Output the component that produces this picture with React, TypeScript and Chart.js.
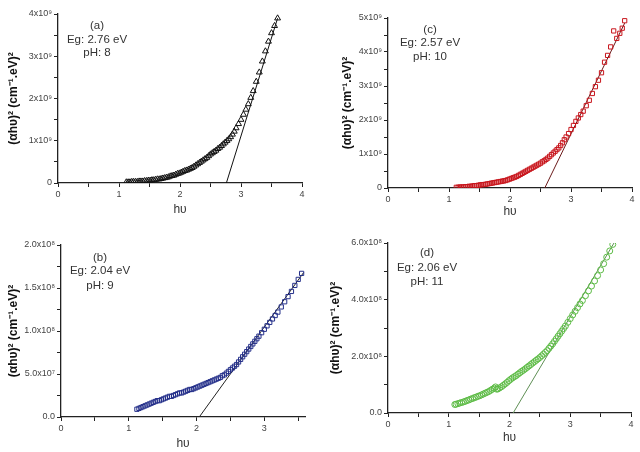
import React, { useEffect, useRef } from "react";
import { Chart, registerables } from "chart.js";

Chart.register(...registerables);

// ---------- data ----------
const X_TICK_LABELS = ["0", "1", "2", "3", "4"];
const Y_TITLE = "(αhυ)² (cm⁻¹.eV)²";
const X_TITLE = "hυ";

// (a) pH 8 — y in units of 10⁹
const HV_A = [1.12,1.15,1.18,1.21,1.24,1.27,1.30,1.33,1.36,1.39,1.42,1.45,1.48,1.51,1.54,1.57,1.60,1.63,1.66,1.69,1.72,1.75,1.78,1.81,1.84,1.87,1.90,1.93,1.96,1.99,2.02,2.05,2.08,2.11,2.14,2.17,2.20,2.23,2.26,2.29,2.32,2.35,2.38,2.41,2.44,2.47,2.50,2.53,2.56,2.59,2.62,2.65,2.68,2.71,2.74,2.77,2.80,2.83,2.86,2.89,2.92,2.96,3.00,3.04,3.08,3.12,3.16,3.20,3.25,3.30,3.35,3.40,3.45,3.50,3.55,3.60];
const ALPHA_A = [0.02,0.02,0.02,0.03,0.03,0.03,0.03,0.04,0.04,0.04,0.05,0.05,0.06,0.06,0.07,0.07,0.08,0.09,0.09,0.10,0.11,0.12,0.13,0.14,0.16,0.17,0.18,0.20,0.22,0.23,0.25,0.27,0.29,0.30,0.32,0.34,0.36,0.39,0.42,0.45,0.48,0.51,0.54,0.57,0.60,0.64,0.68,0.71,0.74,0.77,0.81,0.84,0.88,0.92,0.96,1.00,1.04,1.09,1.15,1.22,1.30,1.40,1.50,1.62,1.74,1.87,2.02,2.18,2.40,2.62,2.88,3.12,3.35,3.55,3.72,3.90];
const FIT_A_X = [2.76, 3.60];
const FIT_A_Y = [0, 3.90];
const Y_VALS_A = [0, 1, 2, 3, 4];
const Y_LABELS_A = ["0", "1x10⁹", "2x10⁹", "3x10⁹", "4x10⁹"];
const NOTE_A = ["(a)", "Eg: 2.76 eV", "pH: 8"];

// (c) pH 10 — y in units of 10⁹
const HV_C = [1.12,1.15,1.18,1.21,1.24,1.27,1.30,1.33,1.36,1.39,1.42,1.45,1.48,1.51,1.54,1.57,1.60,1.63,1.66,1.69,1.72,1.75,1.78,1.81,1.84,1.87,1.90,1.93,1.96,1.99,2.02,2.05,2.08,2.11,2.14,2.17,2.20,2.23,2.26,2.29,2.32,2.35,2.38,2.41,2.44,2.47,2.50,2.53,2.56,2.59,2.62,2.65,2.68,2.71,2.74,2.77,2.80,2.83,2.86,2.89,2.92,2.96,3.00,3.04,3.08,3.12,3.16,3.20,3.25,3.30,3.35,3.40,3.45,3.50,3.55,3.60,3.65,3.70,3.75,3.80,3.84,3.88];
const ALPHA_C = [0.02,0.02,0.03,0.03,0.03,0.04,0.04,0.05,0.05,0.06,0.07,0.07,0.08,0.09,0.10,0.10,0.11,0.12,0.13,0.14,0.15,0.16,0.17,0.18,0.19,0.20,0.21,0.22,0.24,0.26,0.28,0.30,0.32,0.34,0.37,0.40,0.43,0.46,0.49,0.52,0.55,0.58,0.61,0.64,0.67,0.70,0.73,0.77,0.80,0.84,0.88,0.93,0.98,1.03,1.08,1.13,1.18,1.25,1.33,1.42,1.50,1.60,1.72,1.84,1.96,2.06,2.16,2.26,2.42,2.58,2.78,2.98,3.17,3.39,3.70,3.90,4.15,4.62,4.40,4.55,4.70,4.92];
const FIT_C_X = [2.57, 3.88];
const FIT_C_Y = [0, 4.85];
const Y_VALS_C = [0, 1, 2, 3, 4, 5];
const Y_LABELS_C = ["0", "1x10⁹", "2x10⁹", "3x10⁹", "4x10⁹", "5x10⁹"];
const NOTE_C = ["(c)", "Eg: 2.57 eV", "pH: 10"];

// (b) pH 9 — y in units of 10⁸
const HV_B = [1.12,1.15,1.18,1.21,1.24,1.27,1.30,1.33,1.36,1.39,1.42,1.45,1.48,1.51,1.54,1.57,1.60,1.63,1.66,1.69,1.72,1.75,1.78,1.81,1.84,1.87,1.90,1.93,1.96,1.99,2.02,2.05,2.08,2.11,2.14,2.17,2.20,2.23,2.26,2.29,2.32,2.35,2.38,2.41,2.44,2.47,2.50,2.53,2.56,2.59,2.62,2.65,2.68,2.71,2.74,2.77,2.80,2.83,2.86,2.89,2.92,2.96,3.00,3.04,3.08,3.12,3.16,3.20,3.25,3.30,3.35,3.40,3.45,3.50,3.55];
const ALPHA_B = [0.09,0.10,0.11,0.12,0.13,0.14,0.15,0.16,0.17,0.18,0.19,0.19,0.20,0.21,0.22,0.23,0.24,0.24,0.25,0.26,0.27,0.28,0.28,0.29,0.30,0.31,0.32,0.32,0.33,0.34,0.35,0.36,0.37,0.38,0.39,0.40,0.41,0.42,0.43,0.44,0.45,0.46,0.48,0.49,0.51,0.53,0.55,0.57,0.59,0.61,0.64,0.67,0.70,0.73,0.76,0.79,0.82,0.85,0.88,0.91,0.94,0.98,1.02,1.06,1.10,1.14,1.18,1.22,1.28,1.34,1.40,1.46,1.53,1.60,1.67];
const FIT_B_X = [2.04, 3.58];
const FIT_B_Y = [0, 1.68];
const Y_VALS_B = [0, 0.5, 1.0, 1.5, 2.0];
const Y_LABELS_B = ["0.0", "5.0x10⁷", "1.0x10⁸", "1.5x10⁸", "2.0x10⁸"];
const NOTE_B = ["(b)", "Eg: 2.04 eV", "pH: 9"];

// (d) pH 11 — y in units of 10⁸
const HV_D = [1.10,1.12,1.15,1.18,1.21,1.24,1.27,1.30,1.33,1.36,1.39,1.42,1.45,1.48,1.51,1.54,1.57,1.60,1.63,1.66,1.69,1.72,1.75,1.77,1.79,1.81,1.84,1.87,1.90,1.93,1.96,1.99,2.02,2.05,2.08,2.11,2.14,2.17,2.20,2.23,2.26,2.29,2.32,2.35,2.38,2.41,2.44,2.47,2.50,2.53,2.56,2.59,2.62,2.65,2.68,2.71,2.74,2.77,2.80,2.83,2.86,2.89,2.92,2.96,3.00,3.04,3.08,3.12,3.16,3.20,3.25,3.30,3.35,3.40,3.45,3.50,3.55,3.60,3.65,3.70];
const ALPHA_D = [0.30,0.31,0.33,0.35,0.37,0.39,0.41,0.44,0.46,0.49,0.51,0.54,0.56,0.59,0.61,0.64,0.67,0.70,0.73,0.76,0.80,0.84,0.88,0.92,0.84,0.85,0.89,0.93,0.98,1.03,1.08,1.14,1.19,1.24,1.28,1.32,1.37,1.42,1.47,1.51,1.56,1.61,1.66,1.71,1.76,1.81,1.86,1.91,1.96,2.02,2.08,2.14,2.20,2.28,2.36,2.44,2.53,2.62,2.71,2.80,2.89,2.98,3.07,3.20,3.33,3.46,3.59,3.72,3.85,3.97,4.14,4.31,4.48,4.66,4.85,5.05,5.27,5.50,5.72,5.95];
const FIT_D_X = [2.06, 3.72];
const FIT_D_Y = [0, 6.0];
const Y_VALS_D = [0, 2, 4, 6];
const Y_LABELS_D = ["0.0", "2.0x10⁸", "4.0x10⁸", "6.0x10⁸"];
const NOTE_D = ["(d)", "Eg: 2.06 eV", "pH: 11"];

// ---------- panel styles / layout ----------
const FONT = "'Liberation Sans', Arial, sans-serif";

const PANELS = [
  {
    key: "a", left: 0, top: 0, xs: HV_A, ys: ALPHA_A, fx: FIT_A_X, fy: FIT_A_Y,
    yVals: Y_VALS_A, yLabels: Y_LABELS_A, yMax: 4, yStep: 0.5, xMax: 4, note: NOTE_A,
    marker: "triangle", radius: 3.4, color: "#111111", fitColor: "#111111",
    pad: { left: 0, top: 14, right: 18, bottom: 0 }, yW: 58, xH: 43,
    xTitlePad: 9, yTitlePad: 6, noteX: 97, noteY: [26, 40, 53],
  },
  {
    key: "c", left: 320, top: 0, xs: HV_C, ys: ALPHA_C, fx: FIT_C_X, fy: FIT_C_Y,
    yVals: Y_VALS_C, yLabels: Y_LABELS_C, yMax: 5, yStep: 0.5, xMax: 4, note: NOTE_C,
    marker: "rect", radius: 3, color: "#c8161d", fitColor: "#6b1a1a",
    pad: { left: 0, top: 18, right: 8, bottom: 0 }, yW: 68, xH: 38,
    xTitlePad: 7, yTitlePad: 20, noteX: 110, noteY: [30, 43, 57],
  },
  {
    key: "b", left: 0, top: 226, xs: HV_B, ys: ALPHA_B, fx: FIT_B_X, fy: FIT_B_Y,
    yVals: Y_VALS_B, yLabels: Y_LABELS_B, yMax: 2, yStep: 0.25, xMax: 3.6, note: NOTE_B,
    marker: "rect", radius: 3, color: "#25308a", fitColor: "#222222",
    pad: { left: 0, top: 19, right: 15, bottom: 0 }, yW: 61, xH: 35,
    xTitlePad: 1.5, yTitlePad: 6, noteX: 100, noteY: [32, 45, 60],
  },
  {
    key: "d", left: 320, top: 226, xs: HV_D, ys: ALPHA_D, fx: FIT_D_X, fy: FIT_D_Y,
    yVals: Y_VALS_D, yLabels: Y_LABELS_D, yMax: 6, yStep: 1, xMax: 4, note: NOTE_D,
    marker: "circle", radius: 3, color: "#5dbb46", fitColor: "#5f8f55",
    pad: { left: 0, top: 17, right: 9, bottom: 0 }, yW: 68, xH: 39,
    xTitlePad: 7.5, yTitlePad: 8, noteX: 107, noteY: [27, 42, 56],
  },
];

const notePlugin = {
  id: "note",
  afterDraw(chart: any, _args: any, opts: any) {
    const ctx = chart.ctx;
    ctx.save();
    ctx.font = `11.5px ${FONT}`;
    ctx.fillStyle = "#333";
    ctx.textAlign = "center";
    ctx.textBaseline = "middle";
    (opts.lines || []).forEach((t: string, i: number) => {
      ctx.fillText(t, opts.x, opts.y[i]);
    });
    ctx.restore();
  },
};

function Panel({ p }: { p: any }) {
  const ref = useRef<HTMLCanvasElement | null>(null);
  useEffect(() => {
    if (!ref.current) return;
    const axisColor = "#222";
    const tickFont = { family: FONT, size: 9 };
    const chart = new Chart(ref.current, {
      type: "scatter",
      data: {
        datasets: [
          {
            data: p.fx.map((x: number, i: number) => ({ x, y: p.fy[i] })),
            showLine: true,
            borderColor: p.fitColor,
            borderWidth: 1,
            pointRadius: 0,
            order: 2,
          },
          {
            data: p.xs.map((x: number, i: number) => ({ x, y: p.ys[i] })),
            pointStyle: p.marker,
            pointRadius: p.radius,
            borderColor: p.color,
            backgroundColor: "rgba(0,0,0,0)",
            borderWidth: 1,
            showLine: false,
            order: 1,
          },
        ],
      } as any,
      options: {
        responsive: false,
        animation: false,
        events: [],
        layout: { padding: p.pad },
        plugins: {
          legend: { display: false },
          tooltip: { enabled: false },
          note: { lines: p.note, x: p.noteX, y: p.noteY },
        } as any,
        scales: {
          x: {
            type: "linear",
            min: 0,
            max: p.xMax,
            afterFit: (s: any) => { s.height = p.xH; },
            ticks: {
              stepSize: 0.5,
              includeBounds: false,
              autoSkip: false,
              maxRotation: 0,
              padding: 2,
              color: "#444",
              font: tickFont,
              callback: (v: any) => {
                const n = Number(v);
                return Math.abs(n - Math.round(n)) < 1e-6 ? X_TICK_LABELS[Math.round(n)] : "";
              },
            },
            grid: { drawOnChartArea: false, drawTicks: true, tickLength: 4, color: axisColor },
            border: { color: axisColor, width: 1.3 },
            title: {
              display: true,
              text: X_TITLE,
              color: "#333",
              font: { family: FONT, size: 12 },
              padding: { top: 0, bottom: p.xTitlePad },
            },
          },
          y: {
            type: "linear",
            min: 0,
            max: p.yMax,
            afterFit: (s: any) => { s.width = p.yW; },
            ticks: {
              stepSize: p.yStep,
              autoSkip: false,
              padding: 2,
              color: "#444",
              font: tickFont,
              callback: (v: any) => {
                const n = Number(v);
                const i = p.yVals.findIndex((t: number) => Math.abs(t - n) < 1e-6);
                return i >= 0 ? p.yLabels[i] : "";
              },
            },
            grid: { drawOnChartArea: false, drawTicks: true, tickLength: 4, color: axisColor },
            border: { color: axisColor, width: 1.3 },
            title: {
              display: true,
              text: Y_TITLE,
              color: "#111",
              font: { family: FONT, size: 12, weight: "bold" },
              padding: { top: p.yTitlePad, bottom: 0 },
            },
          },
        },
      } as any,
      plugins: [notePlugin as any],
    });
    return () => chart.destroy();
  }, [p]);
  return (
    <canvas
      ref={ref}
      width={320}
      height={226}
      style={{ position: "absolute", left: p.left, top: p.top, width: 320, height: 226 }}
    />
  );
}

export default function App() {
  return (
    <div style={{ position: "absolute", left: 0, top: 0, width: 640, height: 452, background: "#fff" }}>
      {PANELS.map((p) => (
        <Panel key={p.key} p={p} />
      ))}
    </div>
  );
}
